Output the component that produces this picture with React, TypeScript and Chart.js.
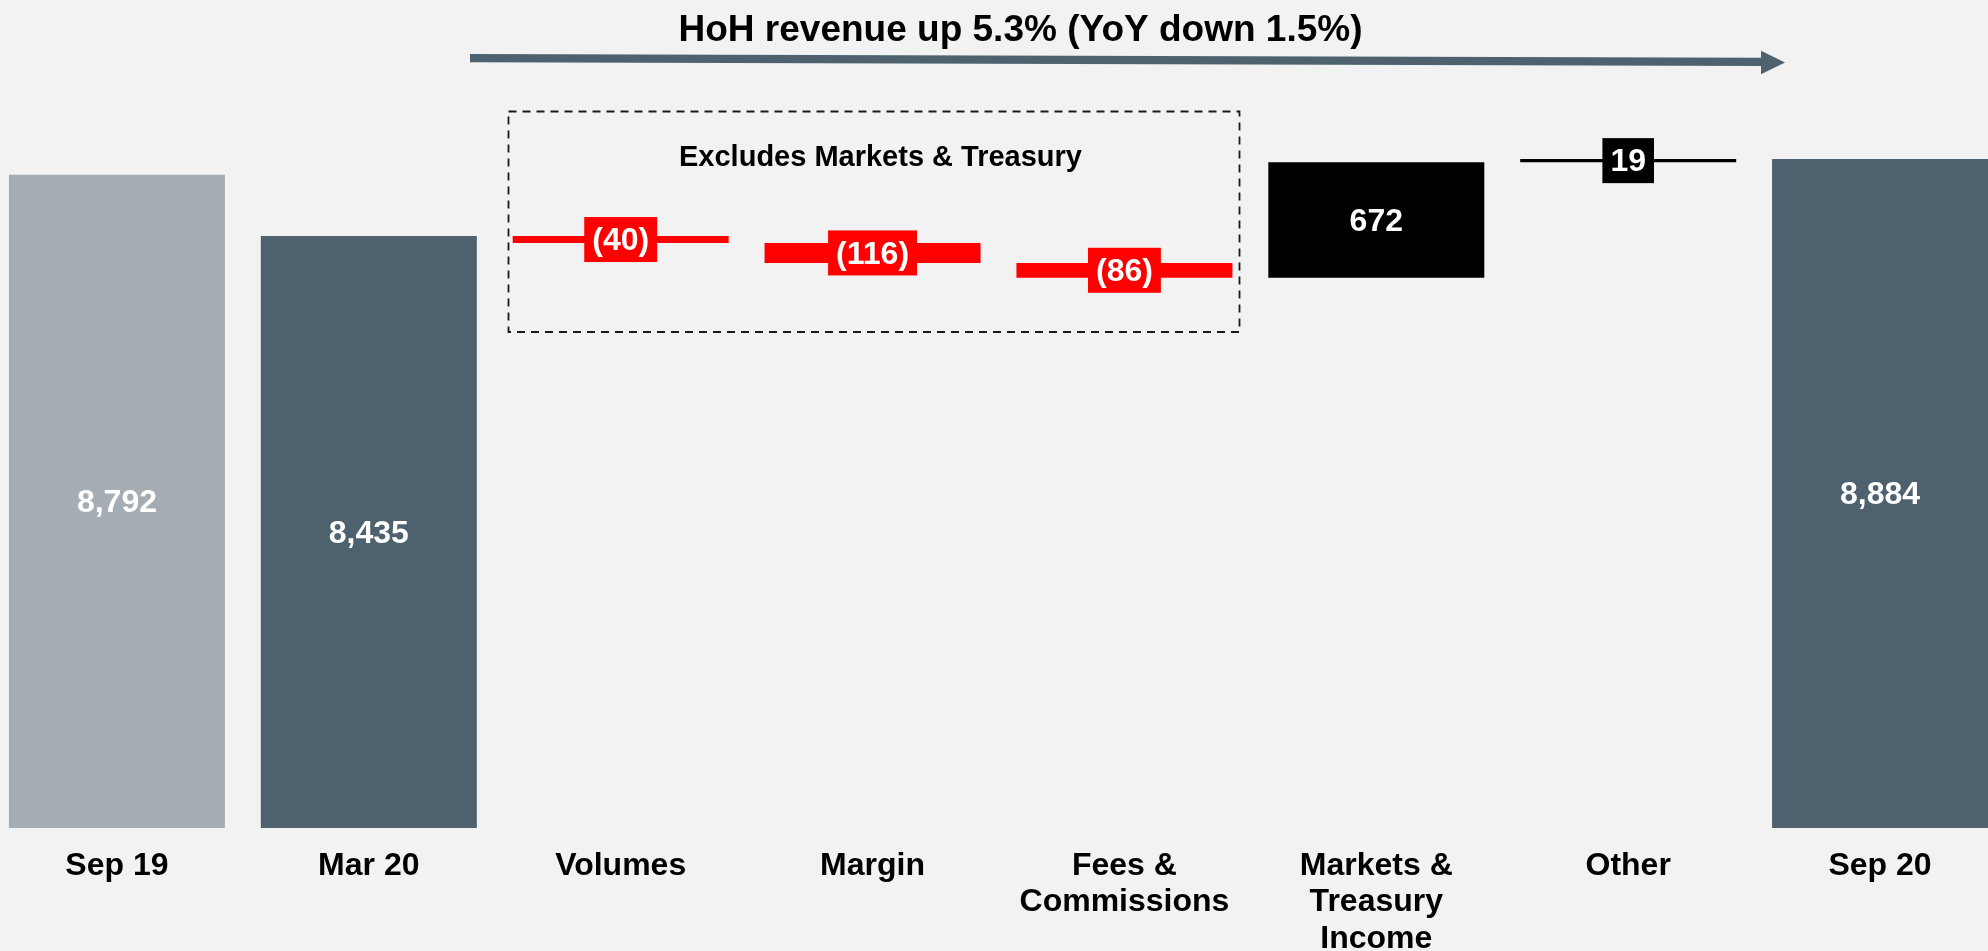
import React, { useEffect, useRef } from 'react';
import { Chart, registerables } from 'chart.js';

Chart.register(...registerables);

// ---- data ----
const tickLabels: string[][] = [
  ['Sep 19'],
  ['Mar 20'],
  ['Volumes'],
  ['Margin'],
  ['Fees &', 'Commissions'],
  ['Markets &', 'Treasury', 'Income'],
  ['Other'],
  ['Sep 20'],
];
const startTotal = 8792; // Sep 19
const baseTotal = 8435; // Mar 20
const endTotal = 8884; // Sep 20
const changeValues = [-40, -116, -86, 672, 19]; // Volumes, Margin, Fees, Markets & Treasury, Other
const titleText = 'HoH revenue up 5.3% (YoY down 1.5%)';
const boxText = 'Excludes Markets & Treasury';

const Y_MIN = 4988;
const Y_MAX = 9810;

const COLOR_PREV = '#a5adb4';
const COLOR_TOTAL = '#4d626e';
const COLOR_NEG = '#ff0000';
const COLOR_POS = '#000000';
const FONT = '"Liberation Sans", Arial, Helvetica, sans-serif';

const CANVAS_LEFT = -9;
const CANVAS_W = 2015;
const CANVAS_H = 951;

// build floating ranges
const ranges: [number, number][] = [];
const values: number[] = [];
const kinds: string[] = [];
const colors: string[] = [];
ranges.push([Y_MIN, startTotal]);
values.push(startTotal);
kinds.push('total');
colors.push(COLOR_PREV);
ranges.push([Y_MIN, baseTotal]);
values.push(baseTotal);
kinds.push('total');
colors.push(COLOR_TOTAL);
let running = baseTotal;
for (const c of changeValues) {
  ranges.push([running, running + c]);
  values.push(c);
  kinds.push('change');
  colors.push(c < 0 ? COLOR_NEG : COLOR_POS);
  running += c;
}
ranges.push([Y_MIN, endTotal]);
values.push(endTotal);
kinds.push('total');
colors.push(COLOR_TOTAL);

function fmt(v: number): string {
  if (v < 0) return '(' + Math.abs(v).toLocaleString('en-US') + ')';
  return v.toLocaleString('en-US');
}

const labelPlugin = {
  id: 'barLabels',
  afterDatasetsDraw(chart: any) {
    const ctx = chart.ctx;
    const meta = chart.getDatasetMeta(0);
    ctx.save();
    ctx.font = `bold 32px ${FONT}`;
    ctx.textAlign = 'center';
    ctx.textBaseline = 'middle';
    meta.data.forEach((el: any, i: number) => {
      const p = el.getProps(['x', 'y', 'base', 'width'], true);
      const cy = (p.y + p.base) / 2;
      const text = fmt(values[i]);
      if (kinds[i] === 'change') {
        const w = ctx.measureText(text).width + 16;
        const h = 45;
        ctx.fillStyle = colors[i];
        ctx.fillRect(p.x - w / 2, cy - h / 2, w, h);
      }
      ctx.fillStyle = '#ffffff';
      ctx.fillText(text, p.x, cy + 2);
    });
    ctx.restore();
  },
};

const decorPlugin = {
  id: 'decor',
  afterDraw(chart: any) {
    const ctx = chart.ctx;
    ctx.save();
    ctx.translate(-CANVAS_LEFT, 0);
    // title
    ctx.fillStyle = '#000';
    ctx.font = `bold 37px ${FONT}`;
    ctx.textAlign = 'center';
    ctx.textBaseline = 'alphabetic';
    ctx.fillText(titleText, 1020.5, 40.5);
    // arrow shaft
    ctx.fillStyle = COLOR_TOTAL;
    ctx.beginPath();
    ctx.moveTo(470, 54);
    ctx.lineTo(1762, 57.7);
    ctx.lineTo(1762, 66);
    ctx.lineTo(470, 62.3);
    ctx.closePath();
    ctx.fill();
    // arrow head
    ctx.beginPath();
    ctx.moveTo(1761, 50.7);
    ctx.lineTo(1785, 62.5);
    ctx.lineTo(1761, 74.3);
    ctx.closePath();
    ctx.fill();
    // dashed box
    ctx.strokeStyle = '#1a1a1a';
    ctx.lineWidth = 1.8;
    ctx.setLineDash([8, 6]);
    ctx.strokeRect(508.5, 111.5, 731, 220.5);
    ctx.setLineDash([]);
    // box caption
    ctx.fillStyle = '#000';
    ctx.font = `bold 29px ${FONT}`;
    ctx.fillText(boxText, 880.5, 165.5);
    ctx.restore();
  },
};

export default function App() {
  const ref = useRef<HTMLCanvasElement | null>(null);
  useEffect(() => {
    if (!ref.current) return;
    const chart = new Chart(ref.current, {
      type: 'bar',
      data: {
        labels: tickLabels as any,
        datasets: [
          {
            data: ranges as any,
            backgroundColor: colors,
            borderWidth: 0,
            barThickness: 216,
            inflateAmount: 0,
          } as any,
        ],
      },
      options: {
        responsive: false,
        animation: false,
        events: [],
        layout: { padding: 0 },
        plugins: {
          legend: { display: false },
          tooltip: { enabled: false },
          title: { display: false },
        },
        scales: {
          x: {
            grid: { display: false, drawTicks: false },
            border: { display: false },
            ticks: {
              color: '#000',
              font: { family: FONT, size: 32, weight: 'bold', lineHeight: 1.14 },
              padding: 19.5,
              autoSkip: false,
              maxRotation: 0,
              minRotation: 0,
            },
            afterFit: (scale: any) => {
              scale.height = 123;
            },
          },
          y: {
            display: false,
            min: Y_MIN,
            max: Y_MAX,
          },
        },
      } as any,
      plugins: [labelPlugin, decorPlugin],
    });
    return () => chart.destroy();
  }, []);

  return (
    <div
      style={{
        position: 'fixed',
        left: 0,
        top: 0,
        width: 1988,
        height: 951,
        overflow: 'hidden',
        background: '#f2f2f2',
      }}
    >
      <canvas
        ref={ref}
        width={CANVAS_W}
        height={CANVAS_H}
        style={{ position: 'absolute', left: CANVAS_LEFT, top: 0, width: CANVAS_W, height: CANVAS_H }}
      />
    </div>
  );
}
